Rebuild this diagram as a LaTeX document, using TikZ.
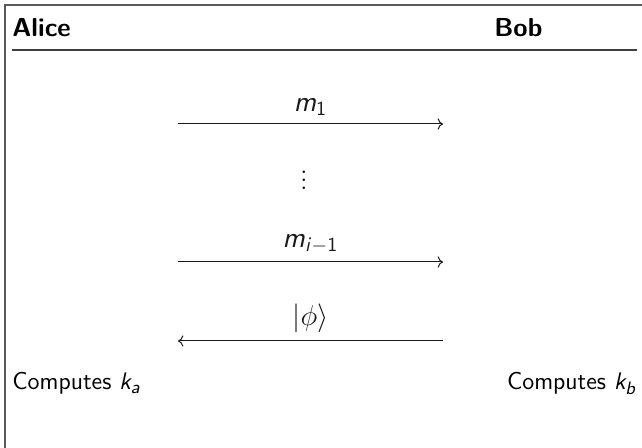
\documentclass[tikz,border=0pt]{standalone}
\usepackage{amsmath,amssymb}
\usepackage{xcolor}
\usepackage{tikz}
\usetikzlibrary{arrows.meta,positioning,calc}
\DeclareMathAlphabet{\mathsfit}{OT1}{cmss}{m}{sl}
\tikzset{
  party/.style={anchor=base west,inner sep=0pt,font=\sffamily\bfseries\fontsize{13}{15}\selectfont},
  act/.style={inner sep=0pt,font=\sffamily\fontsize{12.2}{14}\selectfont},
  msg/.style={->,line width=0.5pt,black!90},
  lbl/.style={above,inner sep=4pt,font=\sffamily\fontsize{14}{16}\selectfont},
  frame/.style={line width=1pt,black!65},
}
\begin{document}
\begin{tikzpicture}[x=0.5pt,y=-0.5pt]
\useasboundingbox (0,0) rectangle (642,448);
\draw[frame] (5,470) -- (5,5) -- (660,5);
\node[party] (alice) at (12,37) {Alice};
\node[party] (bob) at (494,37) {Bob};
\draw[line width=0.8pt,black!75] (12,50) -- (637,50);
% messages
\coordinate (a1) at (178,124);
\coordinate (b1) at (443,124);
\coordinate (a2) at (178,262);
\coordinate (b2) at (443,262);
\coordinate (a3) at (178,341);
\coordinate (b3) at (443,341);
\draw[msg] (a1) -- node[lbl]{$\mathsfit{m}_{\mathsf{1}}$} (b1);
\node[act,font=\fontsize{13}{15}\selectfont] (dots) at (304,174) {$\vdots$};
\draw[msg] (a2) -- node[lbl]{$\mathsfit{m}_{\mathsfit{i}-\mathsf{1}}$} (b2);
\draw[msg] (b3) -- node[lbl]{$|\phi\rangle$} (a3);
\node[act,anchor=base west] (ka) at (12,390) {Computes $\mathsfit{k}_{\mathsfit{a}}$};
\node[act,anchor=base east] (kb) at (637,390) {Computes $\mathsfit{k}_{\mathsfit{b}}$};
\end{tikzpicture}
\end{document}
